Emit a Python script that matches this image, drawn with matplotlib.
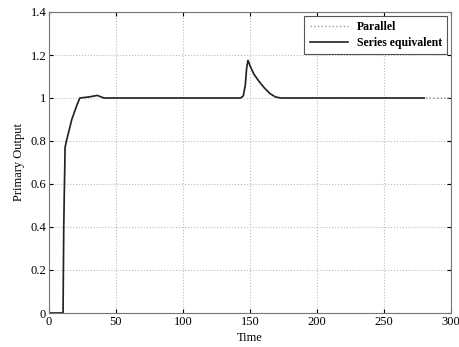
import matplotlib.pyplot as plt

# values
series_t = [0, 10.5, 11, 12, 13, 17, 21, 23, 30, 36, 41, 143, 145, 146.5, 147.5, 148.5, 150, 153, 157, 161, 165, 169, 173, 280]
series_y = [0, 0, 0.4, 0.77, 0.8, 0.9, 0.97, 1.0, 1.005, 1.012, 1.0, 1.0, 1.01, 1.06, 1.14, 1.175, 1.15, 1.11, 1.075, 1.045, 1.02, 1.005, 1.0, 1.0]

parallel_t = [0, 10.5, 11, 12, 13, 17, 21, 23, 30, 36, 41, 143, 145, 146.5, 147.5, 148.5, 150, 153, 157, 161, 165, 169, 173, 300]
parallel_y = [0, 0, 0.4, 0.77, 0.8, 0.9, 0.97, 1.0, 1.005, 1.012, 1.0, 1.0, 1.01, 1.06, 1.14, 1.175, 1.15, 1.11, 1.075, 1.045, 1.02, 1.005, 1.0, 1.0]

xticks = [0, 50, 100, 150, 200, 250, 300]
yticks = [0, 0.2, 0.4, 0.6, 0.8, 1.0, 1.2, 1.4]
ytick_labels = ["0", "0.2", "0.4", "0.6", "0.8", "1", "1.2", "1.4"]

plt.rcParams['font.family'] = ['Liberation Serif', 'DejaVu Serif']
plt.rcParams['font.size'] = 9

fig = plt.figure(figsize=(4.59, 3.47), dpi=100)
ax = fig.add_axes([49 / 459, 1 - 313 / 347, 402 / 459, 301 / 347])

ax.plot(parallel_t, parallel_y, color='#999999', linestyle=':', linewidth=1.0, label='Parallel')
ax.plot(series_t, series_y, color='#222222', linestyle='-', linewidth=1.2, label='Series equivalent')

ax.set_xlim(0, 300)
ax.set_ylim(0, 1.4)
ax.set_xticks(xticks)
ax.set_yticks(yticks)
ax.set_yticklabels(ytick_labels)
ax.grid(True, linestyle=':', color='#bbbbbb', linewidth=0.8)
ax.tick_params(direction='in', top=True, right=True, length=3, pad=2)
for s in ax.spines.values():
    s.set_color('#777777')

ax.set_xlabel('Time', labelpad=3)
ax.set_ylabel('Primary Output', labelpad=4)

leg = ax.legend(loc='upper right', fancybox=False, edgecolor='#555555', framealpha=1,
                borderaxespad=0.3, handlelength=3.2, borderpad=0.45, labelspacing=0.35,
                prop={'size': 8.5, 'weight': 'bold'})
leg.get_frame().set_linewidth(0.8)

fig.savefig('out.png', dpi=100)
